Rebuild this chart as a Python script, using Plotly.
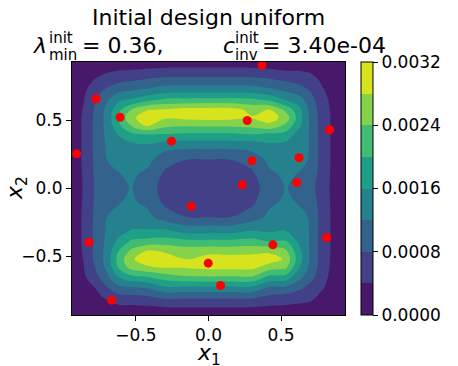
import numpy as np
import plotly.graph_objects as go

# ---------------- data ----------------
grid_x = [-0.94, -0.86, -0.78, -0.7, -0.62, -0.53, -0.42, -0.3, -0.15, 0.0,
          0.15, 0.3, 0.42, 0.53, 0.62, 0.7, 0.78, 0.86, 0.94]
grid_y = [-0.93, -0.86, -0.79, -0.72, -0.65, -0.58, -0.52, -0.46, -0.39, -0.31, -0.21, -0.1, 0.0,
          0.1, 0.21, 0.31, 0.39, 0.46, 0.52, 0.58, 0.65, 0.72, 0.79, 0.86, 0.93]

# field values in units of 1e-4; one list per grid_x column, running along grid_y (bottom -> top)
columns_1e4 = [
    [0.4, 0.8, 1.2, 1.6, 1.9, 2.1, 2.2, 2.3, 2.3, 2.3, 2.3, 2.2, 2.1, 2.2, 2.3, 2.3, 2.3, 2.3, 2.3, 2.2, 2.0, 1.7, 1.3, 0.9, 0.5],
    [0.6, 1.2, 2.0, 2.8, 3.4, 3.8, 4.1, 4.3, 4.4, 4.4, 4.4, 4.3, 4.2, 4.3, 4.4, 4.4, 4.4, 4.4, 4.4, 4.2, 3.8, 3.2, 2.3, 1.4, 0.7],
    [0.9, 1.8, 3.0, 4.2, 6.5, 8.2, 8.9, 9.0, 9.0, 9.0, 8.9, 8.6, 8.4, 8.6, 8.9, 9.0, 9.0, 9.0, 9.0, 8.6, 7.6, 6.5, 4.5, 2.6, 1.0],
    [1.1, 2.5, 5.0, 8.0, 11.0, 12.8, 13.5, 13.3, 12.9, 12.4, 12.0, 11.0, 10.3, 11.0, 12.0, 12.4, 12.8, 13.1, 13.3, 13.0, 11.5, 8.8, 6.2, 3.6, 1.2],
    [1.3, 3.8, 6.9, 11.4, 16.0, 20.5, 21.5, 20.0, 17.0, 14.5, 12.8, 11.8, 11.2, 11.8, 12.8, 14.3, 16.0, 19.0, 20.5, 19.0, 15.3, 11.0, 7.4, 4.3, 1.4],
    [1.3, 3.8, 7.3, 12.5, 19.0, 25.5, 27.5, 25.0, 20.7, 16.3, 13.6, 12.6, 12.2, 12.6, 13.4, 14.7, 18.5, 24.0, 27.2, 24.0, 16.7, 12.0, 8.0, 4.6, 1.5],
    [1.5, 4.1, 8.0, 13.0, 20.0, 27.4, 30.3, 28.5, 21.5, 16.3, 13.2, 11.0, 9.5, 11.0, 13.2, 15.2, 19.0, 28.3, 30.0, 27.8, 19.0, 12.8, 9.0, 5.0, 1.6],
    [1.7, 4.5, 9.5, 16.3, 22.0, 28.3, 30.0, 27.5, 22.0, 16.5, 10.0, 7.2, 6.8, 7.2, 9.5, 13.5, 19.2, 24.8, 28.6, 28.2, 21.0, 14.3, 9.7, 5.5, 1.7],
    [1.8, 4.5, 9.3, 16.0, 23.5, 28.4, 28.0, 26.5, 21.0, 14.5, 8.0, 6.2, 5.8, 6.2, 7.9, 13.1, 18.5, 24.2, 29.0, 29.3, 21.2, 14.4, 9.8, 5.6, 1.8],
    [1.8, 4.5, 9.3, 16.1, 23.7, 29.1, 29.7, 26.8, 21.1, 14.5, 7.9, 6.0, 5.5, 6.0, 7.8, 13.1, 18.5, 24.4, 29.4, 29.4, 21.3, 14.4, 9.8, 5.6, 1.8],
    [1.8, 4.5, 9.3, 16.0, 23.6, 29.0, 29.5, 26.6, 21.0, 14.5, 8.0, 6.2, 5.8, 6.2, 7.9, 13.1, 18.5, 24.3, 29.2, 29.4, 21.3, 14.4, 9.8, 5.6, 1.8],
    [1.8, 4.5, 9.3, 16.1, 23.7, 29.0, 29.5, 27.0, 21.5, 16.0, 10.0, 7.2, 6.8, 7.2, 9.5, 13.5, 19.2, 25.0, 28.3, 27.0, 21.0, 14.3, 9.7, 5.5, 1.7],
    [1.5, 4.1, 7.5, 12.0, 19.0, 26.0, 30.0, 27.3, 20.0, 15.3, 13.0, 11.2, 9.5, 11.2, 13.0, 15.0, 18.0, 26.8, 30.0, 28.0, 19.5, 13.0, 9.0, 5.0, 1.6],
    [1.3, 3.8, 7.0, 12.0, 18.5, 25.0, 27.5, 25.0, 20.5, 16.0, 13.6, 12.6, 12.2, 12.6, 13.3, 14.5, 18.0, 23.0, 26.5, 23.0, 16.0, 11.5, 7.8, 4.2, 1.4],
    [1.2, 3.5, 6.0, 9.5, 13.5, 16.5, 18.0, 17.5, 15.5, 13.8, 12.8, 11.8, 11.2, 11.8, 12.8, 13.3, 14.5, 17.0, 18.5, 17.5, 14.0, 10.0, 7.0, 4.2, 1.3],
    [1.0, 3.2, 5.2, 7.0, 9.5, 11.0, 11.5, 11.5, 11.6, 11.8, 11.8, 10.5, 9.5, 10.5, 11.8, 11.8, 11.7, 11.5, 11.2, 11.0, 9.7, 7.8, 6.0, 3.6, 1.2],
    [0.8, 1.8, 3.2, 4.6, 5.6, 6.1, 6.3, 6.3, 6.3, 6.4, 6.4, 6.2, 6.0, 6.2, 6.4, 6.4, 6.4, 6.3, 6.3, 6.0, 5.4, 4.5, 3.5, 2.2, 0.9],
    [0.5, 1.0, 1.6, 2.2, 2.6, 2.9, 3.1, 3.2, 3.2, 3.2, 3.2, 3.1, 3.0, 3.1, 3.2, 3.2, 3.2, 3.2, 3.2, 3.1, 2.9, 2.5, 1.9, 1.2, 0.6],
    [0.3, 0.6, 1.0, 1.3, 1.5, 1.7, 1.8, 1.8, 1.8, 1.8, 1.8, 1.8, 1.7, 1.8, 1.8, 1.8, 1.8, 1.8, 1.8, 1.8, 1.6, 1.4, 1.1, 0.7, 0.4],
]

design_x = [0.368, -0.774, -0.609, 0.267, 0.834, -0.255, -0.908, 0.623, 0.299,
            0.232, 0.609, -0.119, -0.823, 0.814, 0.443, -0.002, 0.083, -0.667]
design_y = [0.907, 0.660, 0.524, 0.500, 0.432, 0.348, 0.255, 0.226, 0.204,
            0.027, 0.044, -0.130, -0.395, -0.360, -0.414, -0.549, -0.713, -0.821]

level_colors = ["#48186a", "#424086", "#33638d", "#26818e",
                "#209f88", "#40bc73", "#84d34b", "#d7e31c"]
level_start, level_end, level_step = 0.0, 0.0032, 0.0004
cbar_tickvals = [0.0, 0.0008, 0.0016, 0.0024, 0.0032]
cbar_ticktext = ["0.0000", "0.0008", "0.0016", "0.0024", "0.0032"]
axis_tickvals = [-0.5, 0.0, 0.5]
axis_ticktext = ["\u22120.5", "0.0", "0.5"]

title_line1 = "Initial design uniform"
lam_text, lam_sup, lam_sub, lam_val = "\u03bb", "init", "min", "= 0.36,"
c_text, c_sup, c_sub, c_val = "c", "init", "inv", "= 3.40e-04"

# ---------------- figure ----------------
z = np.array(columns_1e4).T * 1e-4   # rows follow grid_y, columns follow grid_x

n = len(level_colors)
colorscale = []
for i, c in enumerate(level_colors):
    colorscale.append([i / n, c])
    colorscale.append([(i + 1) / n, c])

FONT = "DejaVu Sans"
OFF = 8                      # the page body adds an 8 px margin
W, H = 458 - OFF, 366 - OFF
PL, PT, PR, PB = 72, 62, 345, 315   # plot area in page pixels
L, T = PL - OFF, PT - OFF
R, B = W - (PR - OFF), H - (PB - OFF)
PW, PH = PR - PL, PB - PT


def P(px, py):
    return (px - PL) / PW, (PB - py) / PH


fig = go.Figure()
fig.add_trace(go.Contour(
    x=grid_x, y=grid_y, z=z,
    zmin=level_start, zmax=level_end,
    colorscale=colorscale,
    autocontour=False,
    contours=dict(start=level_start, end=level_end, size=level_step,
                  coloring="fill", showlines=False),
    line=dict(width=0, smoothing=1.0),
    colorbar=dict(
        x=(361 - PL) / PW, xanchor="left", xpad=0,
        y=0.5, yanchor="middle", ypad=0,
        len=1.0, lenmode="fraction",
        thickness=12, thicknessmode="pixels",
        outlinewidth=1, outlinecolor="black",
        ticks="outside", ticklen=5, tickcolor="black",
        tickvals=cbar_tickvals, ticktext=cbar_ticktext,
        tickfont=dict(family=FONT, size=17, color="black"),
    ),
    hoverinfo="skip",
))
fig.add_trace(go.Scatter(
    x=design_x, y=design_y, mode="markers",
    marker=dict(color="#ff0000", size=9, line=dict(width=0)),
    showlegend=False,
))

axis_common = dict(
    showgrid=False, zeroline=False, showline=True, mirror=True,
    linecolor="black", linewidth=1, ticks="outside", ticklen=5,
    tickcolor="black", tickvals=axis_tickvals, ticktext=axis_ticktext,
    tickfont=dict(family=FONT, size=17, color="black"),
)
fig.update_xaxes(range=[grid_x[0], grid_x[-1]], **axis_common)
fig.update_yaxes(range=[grid_y[0], grid_y[-1]], **axis_common)

ann = []


def add_text(text, px, py, size, xanchor="left", angle=0):
    x, y = P(px, py)
    ann.append(dict(text=text, x=x, y=y, xref="paper", yref="paper",
                    xanchor=xanchor, yanchor="middle", showarrow=False,
                    textangle=angle,
                    font=dict(family=FONT, size=size, color="black")))


add_text(title_line1, 208.5, 18, 22, xanchor="center")
add_text("<i>" + lam_text + "</i>", 31, 46, 22)
add_text(lam_sup, 47, 38, 15)
add_text(lam_sub, 47, 55, 15)
add_text(lam_val, 80, 46, 22)
add_text("<i>" + c_text + "</i>", 221, 46, 22)
add_text(c_sup, 233, 38, 15)
add_text(c_sub, 233, 55, 15)
add_text(c_val, 260, 46, 22)
add_text("<i>x</i><sub>1</sub>", 208.5, 354, 22, xanchor="center")
add_text("<i>x</i><sub>2</sub>", 16, 188, 22, xanchor="center", angle=-90)

fig.update_layout(
    width=W, height=H,
    margin=dict(l=L, r=R, t=T, b=B, pad=0),
    paper_bgcolor="white", plot_bgcolor="white",
    font=dict(family=FONT, color="black"),
    showlegend=False,
    annotations=ann,
)

fig.write_html("out.html")
